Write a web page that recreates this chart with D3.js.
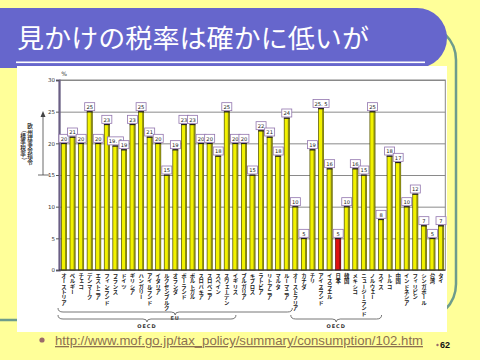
<!DOCTYPE html>
<html><head><meta charset="utf-8">
<script src="https://cdn.jsdelivr.net/npm/d3@7"></script>
<style>
html,body{margin:0;padding:0;background:#FFFF99;}
svg{display:block;}
</style></head>
<body>
<script>
const titleText = "見かけの税率は確かに低いが";
const countries = ["オーストリア","ベルギー","チェコ","デンマーク","エストニア","フィンランド","フランス","ドイツ","ギリシア","ハンガリー","アイルランド","イタリア","ルクセンブルク","オランダ","ポーランド","ポルトガル","スロバキア","スロベニア","スペイン","スウェーデン","イギリス","ブルガリア","キプロス","ラトビア","リトアニア","マルタ","ルーマニア","オーストラリア","カナダ","チリ","アイスランド","イスラエル","日本","韓国","メキシコ","ニュージーランド","ノルウェー","スイス","トルコ","中国","インドネシア","フィリピン","シンガポール","台湾","タイ"];
const rates = [20,21,20,25,20,23,19.6,19,23,25,21,20,15,19,23,23,20,20,18,25,20,20,15,22,21,18,24,10,5,19,25.5,16,5,10,16,15,25,8,18,17,10,12,7,5,7];
const highlight = ["日本"];
const yTicks = [0,5,10,15,20,25,30];
const groups = [
  {label:"EU", from:"オーストリア", to:"ルーマニア", row:0},
  {label:"OECD", from:"オーストリア", to:"イギリス", row:1},
  {label:"OECD", from:"オーストラリア", to:"スイス", row:1}
];
const sideLabel1 = "欧州理事会指令";
const sideLabel2 = "（標準税率）";
const linkText = "http://www.mof.go.jp/tax_policy/summary/consumption/102.htm";
const pageNo = "62";

const JP = "'Noto Sans CJK JP','Noto Sans',sans-serif";
const svg = d3.select("body").append("svg").attr("width",480).attr("height",360);

// background
svg.append("rect").attr("width",480).attr("height",360).attr("fill","#FFFF99");
// decorative rounded frame
svg.append("rect").attr("x",-60).attr("y",24).attr("width",516).attr("height",296)
  .attr("rx",36).attr("fill","none").attr("stroke","#6E9C8C").attr("stroke-width",2.5);
// title band
svg.append("path").attr("d","M0,8 L417,8 A30,30 0 0 1 417,68 L0,68 Z").attr("fill","#6666CC");
svg.append("text").attr("x",17).attr("y",48).attr("fill","#fff")
  .attr("font-family",JP).attr("font-size",26).attr("textLength",352).attr("lengthAdjust","spacingAndGlyphs")
  .text(titleText);
svg.append("rect").attr("x",16).attr("y",61.5).attr("width",409).attr("height",1.6).attr("fill","#fff");

// chart image area
svg.append("rect").attr("x",17).attr("y",66).attr("width",430).attr("height",266).attr("fill","#fff");

const x = d3.scaleBand().domain(countries).range([59.7,445.3]).paddingInner(0.4).paddingOuter(0.2);
const y = d3.scaleLinear().domain([0,30]).range([270,80]);

// grid
const grid = svg.append("g").attr("transform","translate(59.7,0)")
  .call(d3.axisLeft(y).tickValues(yTicks).tickSize(-385.6).tickFormat(""));
grid.select(".domain").remove();
grid.selectAll("line").attr("stroke","#8a8a8a").attr("stroke-width",1);
// frame
svg.append("rect").attr("x",59.7).attr("y",y(30)).attr("width",385.6).attr("height",y(0)-y(30))
  .attr("fill","none").attr("stroke","#888").attr("stroke-width",1);

// y axis
const ya = svg.append("g").attr("transform","translate(59,0)")
  .call(d3.axisLeft(y).tickValues(yTicks).tickSize(3).tickPadding(1));
ya.select(".domain").attr("stroke","#6a5f85").attr("stroke-width",2.2);
ya.selectAll("line").attr("stroke","#555");
ya.selectAll("text").attr("font-family","'DejaVu Sans',sans-serif").attr("font-size",5.5).attr("fill","#333");
svg.append("text").attr("x",64).attr("y",76).attr("font-family","'DejaVu Sans',sans-serif")
  .attr("font-size",6).attr("fill","#333").attr("text-anchor","middle").text("%");

// bars
const bw = x.bandwidth();
const bars = svg.append("g").selectAll("g").data(countries).join("g");
bars.append("rect")
  .attr("x",d=>x(d)).attr("y",(d,i)=>y(rates[i])).attr("width",bw).attr("height",(d,i)=>y(0)-y(rates[i]))
  .attr("fill",d=>highlight.includes(d)?"#DD1111":"#F2F200")
  .attr("stroke",d=>highlight.includes(d)?"#660000":"#4a4a00").attr("stroke-width",0.7);
bars.append("rect")
  .attr("x",d=>x(d)+bw-1.5).attr("y",(d,i)=>y(rates[i])).attr("width",1.5).attr("height",(d,i)=>y(0)-y(rates[i]))
  .attr("fill",d=>highlight.includes(d)?"#881111":"#8a8a10");
bars.append("rect")
  .attr("x",d=>x(d)-0.3).attr("y",(d,i)=>y(rates[i])-0.5).attr("width",bw+0.6).attr("height",1.3)
  .attr("fill","#222");

// value labels
const fmt = v => String(v).replace(".", ". ");
bars.each(function(d,i){
  const g = d3.select(this);
  const s = fmt(rates[i]);
  const w = s.length>2 ? 16 : 10;
  const cx = x(d)+bw/2, top = y(rates[i]);
  g.append("rect").attr("x",cx-w/2).attr("y",top-9).attr("width",w).attr("height",8)
    .attr("fill","#fff").attr("stroke","#9275AE").attr("stroke-width",0.8);
  g.append("text").attr("x",cx).attr("y",top-2.6).attr("text-anchor","middle")
    .attr("font-family","'DejaVu Sans',sans-serif").attr("font-size",5.2).attr("fill","#222").text(s);
});

// baseline
svg.append("line").attr("x1",59).attr("x2",445.3).attr("y1",y(0)).attr("y2",y(0)).attr("stroke","#333").attr("stroke-width",1.2);

// category labels (vertical)
svg.append("g").selectAll("text").data(countries).join("text")
  .attr("x",d=>x(d)+bw/2).attr("y",273)
  .attr("font-family",JP).attr("font-size",5.4).attr("font-weight",700).attr("fill","#222")
  .style("writing-mode","vertical-rl").style("text-orientation","upright")
  .text(d=>d);

// side annotation
svg.append("line").attr("x1",43).attr("x2",43).attr("y1",115).attr("y2",175).attr("stroke","#444").attr("stroke-width",0.8);
svg.append("line").attr("x1",38).attr("x2",49).attr("y1",175).attr("y2",175).attr("stroke","#444").attr("stroke-width",0.8);
svg.append("path").attr("d","M43,111 L40.5,117 L45.5,117 Z").attr("fill","#444");
[[sideLabel1,30,123],[sideLabel2,23,127]].forEach(([t,sx,sy])=>{
  const chars = Array.from(t);
  const isBr = ch => "（）".includes(ch);
  svg.append("text")
    .attr("x",chars.map(ch=>isBr(ch)? sx-1.2 : sx-2.8).join(" "))
    .attr("y",chars.map((ch,k)=> sy + k*6 + (isBr(ch)? 0.5 : 5)).join(" "))
    .attr("rotate",chars.map(ch=>isBr(ch)?90:0).join(" "))
    .attr("font-family",JP).attr("font-size",5.6).attr("font-weight",700).attr("fill","#333")
    .text(t);
});

// group braces
function brace(x1,x2,yy,mid){
  return `M${x1},${yy-4} Q${x1},${yy} ${x1+5},${yy} L${mid-4},${yy} Q${mid},${yy} ${mid},${yy+3} Q${mid},${yy} ${mid+4},${yy} L${x2-5},${yy} Q${x2},${yy} ${x2},${yy-4}`;
}
groups.forEach(gr=>{
  const x1 = gr.from===countries[0] ? 58 : x(gr.from)-2;
  const x2 = x(gr.to)+bw+ (gr.label==="EU"?3:-2);
  const yy = gr.row===0 ? 312 : 319;
  const mid = (x1+x2)/2;
  svg.append("path").attr("d",brace(x1,x2,yy,mid)).attr("fill","none").attr("stroke","#666").attr("stroke-width",0.9);
  svg.append("text").attr("x",mid).attr("y",yy+(gr.row===0?8:9)).attr("text-anchor","middle")
    .attr("font-family","'DejaVu Sans',sans-serif").attr("font-size",5).attr("font-weight",700)
    .attr("letter-spacing",1).attr("fill","#333").text(gr.label);
});

// footer
svg.append("circle").attr("cx",42).attr("cy",340).attr("r",2.6).attr("fill","#9A6A6A");
svg.append("text").attr("x",55).attr("y",345).attr("font-family","'Liberation Sans',Arial,sans-serif")
  .attr("font-size",13).attr("fill","#8C7050").attr("text-decoration","underline")
  .attr("textLength",368).attr("lengthAdjust","spacingAndGlyphs").text(linkText);
svg.append("circle").attr("cx",437.5).attr("cy",345).attr("r",1.2).attr("fill","#9A6A6A");
svg.append("text").attr("x",440).attr("y",348).attr("font-family","'Liberation Sans',Arial,sans-serif")
  .attr("font-size",9).attr("font-weight",700).attr("fill","#111").text(pageNo);
</script>
</body></html>
